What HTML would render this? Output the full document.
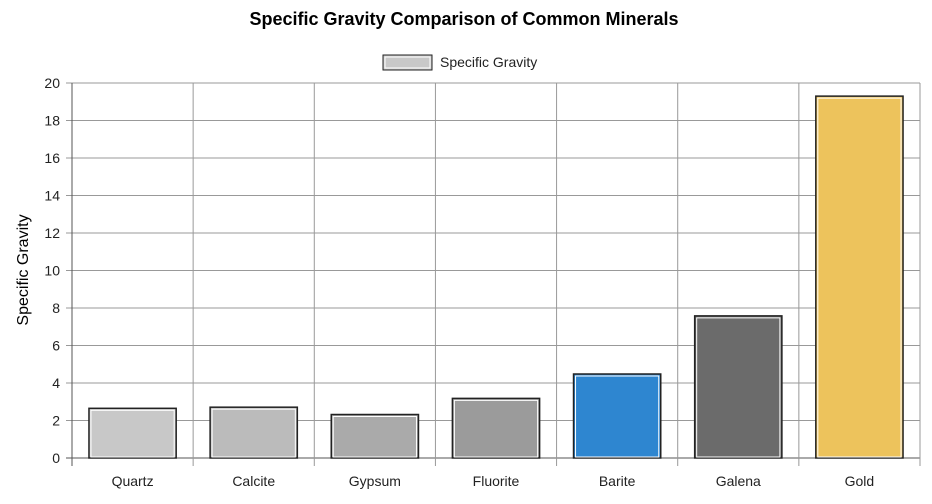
<!DOCTYPE html>
<html><head><meta charset="utf-8"><style>
body{margin:0;background:#fff;font-family:"Liberation Sans",Arial,sans-serif}
svg text{font-family:"Liberation Sans",Arial,sans-serif}
</style></head><body>
<svg width="932" height="499" viewBox="0 0 932 499">
<text x="464" y="25" text-anchor="middle" font-size="18" font-weight="bold" fill="#000">Specific Gravity Comparison of Common Minerals</text>
<g>
<rect x="383" y="55" width="49" height="15" fill="#c8c8c8" stroke="#222" stroke-width="1"/>
<rect x="385" y="57" width="45" height="11" fill="none" stroke="#fff" stroke-width="1"/>
<text x="440" y="67" font-size="14" fill="#222">Specific Gravity</text>
</g>
<text transform="translate(28,270) rotate(-90)" text-anchor="middle" font-size="16" fill="#000">Specific Gravity</text>
<g id="grid"></g><g id="bars"></g><g id="labels"></g>
</svg>
<script>
const categories=["Quartz","Calcite","Gypsum","Fluorite","Barite","Galena","Gold"];
const values=[2.65,2.71,2.32,3.18,4.48,7.58,19.3];
const colors=["#c8c8c8","#bbbbbb","#aaaaaa","#9b9b9b","#2e86d0","#6b6b6b","#edc35c"];
const yTicks=[0,2,4,6,8,10,12,14,16,18,20];
const L=72,R=920,T=83,B=458,yMax=20;
const NS="http://www.w3.org/2000/svg";
const y=v=>B-(v/yMax)*(B-T);
const cw=(R-L)/categories.length;
const x=i=>L+i*cw;
function mk(tag,attrs,parent){const e=document.createElementNS(NS,tag);for(const k in attrs)e.setAttribute(k,attrs[k]);document.getElementById(parent).appendChild(e);return e;}
yTicks.forEach(t=>{
 const l=mk('line',{x1:L-6,x2:R,y1:y(t),y2:y(t),stroke:t===0?'#555':'#999','stroke-width':1},'grid');
 
 
 const tx=mk('text',{x:L-12,y:y(t)+5,'text-anchor':'end','font-size':14,fill:'#222'},'labels');
 tx.textContent=t;
 
 
});
for(let i=0;i<=categories.length;i++){
 const l=mk('line',{x1:x(i),x2:x(i),y1:T,y2:B+8,stroke:i===0?'#555':'#999','stroke-width':1},'grid');
 
 
}
categories.forEach((c,i)=>{
 const bw=cw*0.72,bx=x(i)+(cw-bw)/2,by=y(values[i]);
 const r=mk('rect',{x:bx,y:by,width:bw,height:B-by,fill:colors[i],stroke:'#222','stroke-width':1.5},'bars');
 
 
 const r2=mk('rect',{x:bx+2,y:by+2,width:bw-4,height:Math.max(0,B-by-3),fill:'none',stroke:'#fff','stroke-width':1},'bars');
 
 
 const tx=mk('text',{x:x(i)+cw/2,y:486,'text-anchor':'middle','font-size':14,fill:'#222'},'labels');
 tx.textContent=c;
 
 
});
</script>
</body></html>
